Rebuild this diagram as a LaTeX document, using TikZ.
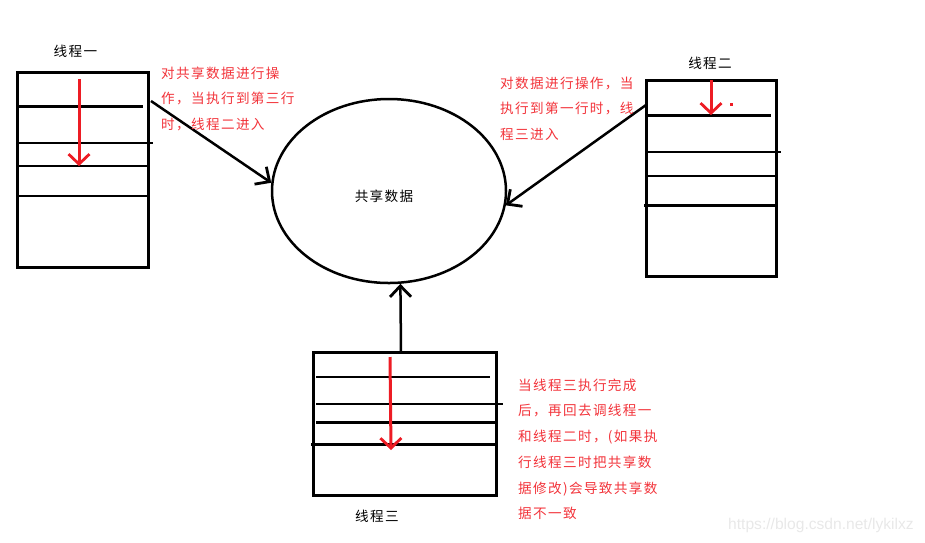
\documentclass[tikz,border=0pt]{standalone}
\usepackage{fontspec}
\setmainfont{Liberation Sans}
\newfontfamily\cjk[LetterSpace=10]{Noto Sans CJK SC}
\usetikzlibrary{arrows.meta,shapes.geometric}
\definecolor{pred}{HTML}{ED1C24}
\definecolor{tred}{HTML}{F2333A}
\definecolor{wm}{HTML}{E8E8E8}
\tikzset{
  thread/.style={draw, line width=3pt, inner sep=0pt, minimum width=#1},
  thick rule/.style={line width=3pt},
  thin rule/.style={line width=1.5pt},
  redarrow/.style={draw=pred, line width=3pt, -{Straight Barb[length=10pt,width=21pt,line width=2.8pt]}},
  blkarrow/.style={line width=2.5pt, -{Straight Barb[length=11pt,width=21pt,line width=2.8pt]}},
  lbl/.style={font=\cjk\fontsize{13.6}{16}\selectfont, inner sep=0pt},
  note/.style={font=\cjk\fontsize{13.6}{25.7}\selectfont, text=tred, align=left, anchor=north west, inner sep=0pt},
}
\begin{document}
\begin{tikzpicture}[x=1pt,y=-1pt]
\useasboundingbox (0,0) rectangle (925,542);
% thread boxes
\node[thread=131pt, minimum height=195pt] (b1) at (82.5,169.5) {};
\node[thread=130pt, minimum height=196pt] (b2) at (711,178) {};
\node[thread=183pt, minimum height=143pt] (b3) at (404.5,423.5) {};
% rules in box 1
\draw[thick rule] (17,106) -- (143,106);
\draw[thin rule] (17,143) -- (153,143);
\draw[thin rule] (17,166) -- (150,166);
\draw[thin rule] (16,196) -- (148,196);
% rules in box 2
\draw[thick rule] (646,115) -- (771,115);
\draw[thin rule] (646,152) -- (781,152);
\draw[thin rule] (646,176) -- (778,176);
\draw[thick rule] (644,205) -- (776,205);
% rules in box 3
\draw[line width=1.2pt] (316,377) -- (490,377);
\draw[line width=1.2pt] (316,404) -- (503,404);
\draw[thick rule] (316,422) -- (498,422);
\draw[thick rule] (311,444) -- (496,444);
% red arrows
\coordinate (r1s) at (79,79);  \coordinate (r1e) at (79,166);
\coordinate (r2s) at (711,80); \coordinate (r2e) at (711,115);
\coordinate (r3s) at (390,357); \coordinate (r3e) at (391,450);
\draw[redarrow] (r1s) -- (r1e);
\draw[redarrow] (r2s) -- (r2e);
\draw[redarrow] (r3s) -- (r3e);
\fill[pred] (729.5,102.5) rectangle (732.5,105.5);
% shared data
\node[draw, ellipse, line width=2.5pt, minimum width=234pt, minimum height=184pt, inner sep=0pt] (ell) at (389,191) {};
\node[lbl] (sd) at (384,196) {共享数据};
% black arrows
\coordinate (a1) at (151,101);
\coordinate (a2) at (646,105);
\coordinate (a3) at (401,352);
\draw[blkarrow] (a1) -- (ell.176);
\draw[blkarrow] (a2) -- (ell.-7);
\draw[blkarrow] (a3) -- (ell.-83);
% labels
\node[lbl] (l1) at (75.5,51) {线程一};
\node[lbl] (l2) at (710,63) {线程二};
\node[lbl] (l3) at (377,516) {线程三};
% notes
\node[note] (n1) at (161,66.5) {对共享数据进行操\\作，当执行到第三行\\时，线程二进入};
\node[note] (n2) at (500,76.5) {对数据进行操作，当\\执行到第一行时，线\\程三进入};
\node[note] (n3) at (518,378.5) {当线程三执行完成\\后，再回去调线程一\\和线程二时，(如果执\\行线程三时把共享数\\据修改)会导致共享数\\据不一致};
\node[font=\fontsize{15.6}{18}\selectfont, text=wm, anchor=west, inner sep=0pt] (wmk) at (728,525) {https://blog.csdn.net/lykilxz};
\end{tikzpicture}
\end{document}
